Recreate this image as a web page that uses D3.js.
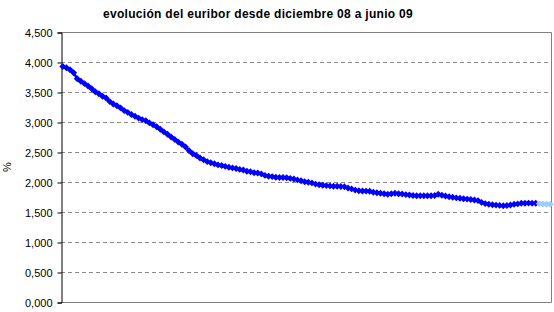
<!DOCTYPE html>
<html>
<head>
<meta charset="utf-8">
<script src="https://cdn.jsdelivr.net/npm/d3@7"></script>
<style>
  body { margin: 0; background: #fff; }
  svg { display: block; font-family: "Liberation Sans", Arial, sans-serif; }
  .grid { stroke: #8c8c8c; stroke-dasharray: 4,3; stroke-width: 1; }
  .ylab { font-size: 11px; fill: #000; }
</style>
</head>
<body>
<svg id="chart"></svg>
<script>
// euribor, daily values, diciembre 08 .. junio 09
const euribor = [
  3.925, 3.905, 3.870, 3.820, 3.720, 3.680, 3.640, 3.600, 3.555, 3.505,
  3.470, 3.430, 3.400, 3.340, 3.300, 3.270, 3.235, 3.190, 3.160, 3.125,
  3.095, 3.065, 3.040, 3.020, 2.985, 2.955, 2.920, 2.880, 2.835, 2.795,
  2.750, 2.710, 2.665, 2.630, 2.585, 2.520, 2.470, 2.440, 2.400, 2.370,
  2.340, 2.320, 2.305, 2.285, 2.275, 2.260, 2.245, 2.235, 2.225, 2.210,
  2.200, 2.180, 2.170, 2.155, 2.150, 2.135, 2.110, 2.095, 2.090, 2.080,
  2.075, 2.075, 2.070, 2.060, 2.050, 2.035, 2.020, 2.005, 1.995, 1.985,
  1.965, 1.955, 1.945, 1.940, 1.935, 1.930, 1.928, 1.925, 1.920, 1.900,
  1.885, 1.865, 1.855, 1.850, 1.848, 1.845, 1.830, 1.820, 1.812, 1.805,
  1.795, 1.805, 1.812, 1.805, 1.800, 1.790, 1.783, 1.775, 1.772, 1.770,
  1.772, 1.770, 1.772, 1.775, 1.795, 1.780, 1.767, 1.755, 1.745, 1.735,
  1.728, 1.720, 1.715, 1.708, 1.700, 1.690, 1.660, 1.640, 1.628, 1.620,
  1.615, 1.610, 1.605, 1.608, 1.617, 1.628, 1.635, 1.645, 1.645, 1.648,
  1.645, 1.645
];
// last days, drawn in light blue
const ultimos = [1.640, 1.633, 1.630, 1.628];

const yTicks = [0, 0.5, 1, 1.5, 2, 2.5, 3, 3.5, 4, 4.5];
const title = 'evolución del euribor desde diciembre 08 a junio 09';

const totalW = 554, totalH = 312;
const mg = { top: 32, right: 2, bottom: 10, left: 61 };
const W = totalW - mg.left - mg.right;
const H = totalH - mg.top - mg.bottom;

const all = euribor.concat(ultimos).map((v, i) => ({ i, v }));
const darkPts = all.slice(0, euribor.length);
const lightPts = all.slice(euribor.length);

const svg = d3.select('#chart').attr('width', totalW).attr('height', totalH);
const g = svg.append('g').attr('transform', `translate(${mg.left},${mg.top})`);

const x = d3.scalePoint().domain(all.map((d) => d.i)).range([0, W]).padding(0.5);
const y = d3.scaleLinear().domain([0, 4.5]).range([H, 0]);
const fmt = (v) => d3.format('.3f')(v).replace('.', ',');

// grid
yTicks.filter((t) => t > 0 && t < 4.5).forEach((t) =>
  g.append('line').attr('class', 'grid')
    .attr('x1', 0).attr('x2', W).attr('y1', y(t) + 0.5).attr('y2', y(t) + 0.5));

// plot border (top, right, bottom)
g.append('path').attr('fill', 'none').attr('stroke', '#808080')
  .attr('d', `M0,0.5H${W - 0.5}V${H + 0.5}H0`);

// y axis
const ax = g.append('g').attr('transform', 'translate(0.5,0.5)')
  .call(d3.axisLeft(y).tickValues(yTicks).tickFormat(fmt).tickSize(4).tickPadding(5));
ax.select('.domain').attr('stroke', '#000');
ax.selectAll('.tick line').attr('stroke', '#000');
ax.selectAll('.tick text').attr('class', 'ylab').attr('font-family', null).attr('font-size', null);

svg.append('text').attr('transform', `translate(11,${mg.top + H / 2}) rotate(-90)`)
  .attr('text-anchor', 'middle').attr('font-size', 11).text('%');

svg.append('text').attr('x', 258).attr('y', 18).attr('text-anchor', 'middle')
  .attr('font-size', 12).attr('font-weight', 'bold').attr('letter-spacing', 0.3).text(title);

const line = d3.line().x((d) => x(d.i)).y((d) => y(d.v));
const diamond = d3.symbol().type(d3.symbolSquare).size(24);

function series(pts, color) {
  g.append('path').datum(pts).attr('fill', 'none').attr('stroke', color)
    .attr('stroke-width', 2.5).attr('d', line);
  g.selectAll(null).data(pts).enter().append('path')
    .attr('d', diamond).attr('fill', color)
    .attr('transform', (d) => `translate(${x(d.i)},${y(d.v)}) rotate(45)`);
}
series(darkPts, '#0000ff');
series(lightPts, '#99ccff');
</script>
</body>
</html>
